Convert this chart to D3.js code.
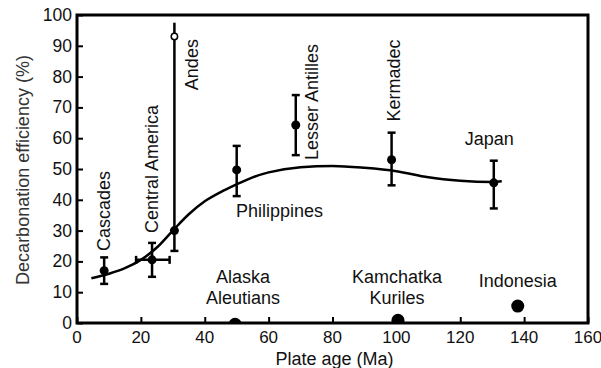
<!DOCTYPE html>
<html>
<head>
<meta charset="utf-8">
<script src="https://cdn.jsdelivr.net/npm/d3@7"></script>
<style>
  body { margin: 0; background: #fff; }
  svg text { font-family: "Liberation Sans", Arial, sans-serif; fill: #111; }
</style>
</head>
<body>
<div class="chart"></div>
<script>
// arc regions with error bars
const regions = ["Cascades", "Central America", "Andes", "Philippines", "Lesser Antilles", "Kermadec", "Japan"];
const ages = [8.5, 23.5, 30.5, 50, 68.5, 98.5, 130.5];
const effs = [17, 20.5, 30, 49.7, 64.3, 53, 45.5];
const effLow = [12.7, 15, 23.4, 41.2, 54.5, 44.7, 37.2];
const effHigh = [21.3, 26, 97.5, 57.5, 74, 61.8, 52.7];
const ageLow = [null, 18.5, null, null, null, null, null];
const ageHigh = [null, 29, null, null, null, null, null];
// Andes upper estimate (open circle)
const andesAge = 30.5;
const andesHigh = 93;

// arcs with ~zero efficiency
const zeroRegions = ["Alaska Aleutians", "Kamchatka Kuriles", "Indonesia"];
const zeroAges = [49.5, 100.5, 138];
const zeroEffs = [-0.4, 0.9, 5.5];

// fitted curve
const fitAge = [4.5, 10, 15, 20, 25, 30, 35, 40, 45, 50, 55, 60, 70, 80, 90, 100, 110, 120, 130, 133];
const fitEff = [14.5, 16, 17.8, 20.5, 24.5, 30, 35.3, 39.5, 42.5, 45, 47.3, 48.9, 50.6, 51, 50.4, 49.3, 47.3, 46.2, 45.8, 46];

const xTicks = [0, 20, 40, 60, 80, 100, 120, 140, 160];
const yTicks = [0, 10, 20, 30, 40, 50, 60, 70, 80, 90, 100];

var W = 601, H = 368;
var m = {left: 77, right: 13, top: 15, bottom: 45};

var svg = d3.select(".chart").append("svg")
    .attr("width", W).attr("height", H);

var x = d3.scaleLinear().domain([0, 160]).range([m.left, W - m.right]);
var y = d3.scaleLinear().domain([0, 100]).range([H - m.bottom, m.top]);

svg.append("clipPath").attr("id", "plot")
    .append("rect")
    .attr("x", m.left).attr("y", m.top)
    .attr("width", W - m.left - m.right).attr("height", H - m.top - m.bottom);

// axes: ticks point inward
var xAxis = svg.append("g")
    .attr("transform", `translate(0,${y(0)})`)
    .call(d3.axisTop(x).tickValues(xTicks).tickSize(6).tickFormat(""));
xAxis.selectAll("line").attr("stroke", "#000").attr("stroke-width", 2);
xAxis.select(".domain").remove();

var yAxis = svg.append("g")
    .attr("transform", `translate(${x(0)},0)`)
    .call(d3.axisRight(y).tickValues(yTicks).tickSize(6).tickFormat(""));
yAxis.selectAll("line").attr("stroke", "#000").attr("stroke-width", 2);
yAxis.select(".domain").remove();

svg.selectAll(".xlab")
    .data(xTicks).enter().append("text")
    .attr("class", "xlab")
    .attr("x", d => x(d)).attr("y", y(0) + 20)
    .attr("text-anchor", "middle")
    .attr("font-size", 17)
    .text(d => d);

svg.selectAll(".ylab")
    .data(yTicks).enter().append("text")
    .attr("class", "ylab")
    .attr("x", x(0) - 5).attr("y", d => y(d) + 6)
    .attr("text-anchor", "end")
    .attr("font-size", 17.5)
    .text(d => d);

svg.append("text")
    .attr("x", (x(0) + x(160)) / 2 + 2).attr("y", H - 3)
    .attr("text-anchor", "middle")
    .attr("font-size", 18)
    .text("Plate age (Ma)");

svg.append("text")
    .attr("transform", `translate(29,${(y(0) + y(100)) / 2 + 1}) rotate(-90)`)
    .attr("text-anchor", "middle")
    .attr("font-size", 18)
    .style("fill", "#333")
    .text("Decarbonation efficiency (%)");

var plot = svg.append("g").attr("clip-path", "url(#plot)");

// fit curve
var line = d3.line()
    .x((d, i) => x(fitAge[i]))
    .y(d => y(d))
    .curve(d3.curveMonotoneX);
plot.append("path")
    .datum(fitEff)
    .attr("d", line)
    .attr("fill", "none")
    .attr("stroke", "#000")
    .attr("stroke-width", 2.5);

// error bars
var cap = 4;
regions.forEach(function(r, i) {
    plot.append("line")
        .attr("x1", x(ages[i])).attr("x2", x(ages[i]))
        .attr("y1", y(effLow[i])).attr("y2", y(effHigh[i]))
        .attr("stroke", "#000").attr("stroke-width", 2.5);
    plot.append("line") //bottom cap
        .attr("x1", x(ages[i]) - cap).attr("x2", x(ages[i]) + cap)
        .attr("y1", y(effLow[i])).attr("y2", y(effLow[i]))
        .attr("stroke", "#000").attr("stroke-width", 2.5);
    if (r != "Andes") { //Andes line runs up to the open circle
        plot.append("line")
            .attr("x1", x(ages[i]) - cap).attr("x2", x(ages[i]) + cap)
            .attr("y1", y(effHigh[i])).attr("y2", y(effHigh[i]))
            .attr("stroke", "#000").attr("stroke-width", 2.5);
    }
    if (ageLow[i] != null) {
        plot.append("line")
            .attr("x1", x(ageLow[i])).attr("x2", x(ageHigh[i]))
            .attr("y1", y(effs[i])).attr("y2", y(effs[i]))
            .attr("stroke", "#000").attr("stroke-width", 2.5);
        [ageLow[i], ageHigh[i]].forEach(function(a) {
            plot.append("line")
                .attr("x1", x(a)).attr("x2", x(a))
                .attr("y1", y(effs[i]) - cap).attr("y2", y(effs[i]) + cap)
                .attr("stroke", "#000").attr("stroke-width", 2.5);
        });
    }
});

plot.selectAll(".pt")
    .data(effs).enter().append("circle")
    .attr("class", "pt")
    .attr("cx", (d, i) => x(ages[i]))
    .attr("cy", d => y(d))
    .attr("r", 4.5)
    .attr("fill", "#000");

plot.append("circle")
    .attr("cx", x(andesAge)).attr("cy", y(andesHigh))
    .attr("r", 3.2)
    .attr("fill", "#fff").attr("stroke", "#000").attr("stroke-width", 1.5);

plot.selectAll(".zero")
    .data(zeroEffs).enter().append("circle")
    .attr("class", "zero")
    .attr("cx", (d, i) => x(zeroAges[i]))
    .attr("cy", d => y(d))
    .attr("r", 6.5)
    .attr("fill", "#000");

// labels: [text, age, eff, rotated, anchor]
var labels = [
    ["Cascades", 10.3, 23.4, true, "start"],
    ["Central America", 25.4, 29.2, true, "start"],
    ["Andes", 37.9, 75.6, true, "start"],
    ["Lesser Antilles", 75.5, 52.9, true, "start"],
    ["Kermadec", 101.2, 65.4, true, "start"],
    ["Philippines", 49.8, 34.4, false, "start"],
    ["Japan", 129.1, 57.8, false, "middle"],
    ["Alaska", 52, 12.9, false, "middle"],
    ["Aleutians", 52, 6.2, false, "middle"],
    ["Kamchatka", 100.2, 12.9, false, "middle"],
    ["Kuriles", 100.2, 6.2, false, "middle"],
    ["Indonesia", 138, 11.8, false, "middle"]
];
labels.forEach(function(l) {
    var t = svg.append("text")
        .attr("font-size", 18)
        .attr("text-anchor", l[4])
        .text(l[0]);
    if (l[3]) {
        t.attr("transform", `translate(${x(l[1])},${y(l[2])}) rotate(-90)`);
    } else {
        t.attr("x", x(l[1])).attr("y", y(l[2]));
    }
});

// frame
svg.append("rect")
    .attr("x", m.left).attr("y", m.top)
    .attr("width", W - m.left - m.right).attr("height", H - m.top - m.bottom)
    .attr("fill", "none")
    .attr("stroke", "#000")
    .attr("stroke-width", 3);
</script>
</body>
</html>
